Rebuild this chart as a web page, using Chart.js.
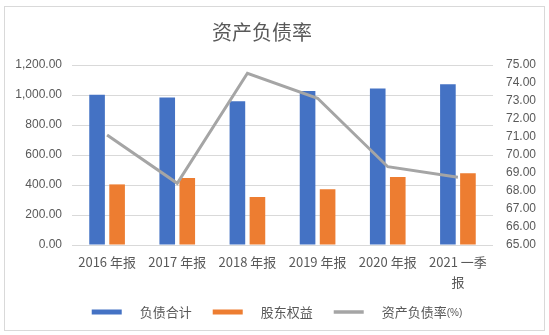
<!DOCTYPE html>
<html>
<head>
<meta charset="utf-8">
<script src="https://cdn.jsdelivr.net/npm/chart.js@4"></script>
<style>
  html, body { margin: 0; padding: 0; background: #ffffff; }
  #wrap { position: relative; width: 549px; height: 335px; }
</style>
</head>
<body>
<div id="wrap"><canvas id="c" width="549" height="335"></canvas></div>
<script>
// 资产负债率 — liabilities, equity (left axis) and debt ratio % (right axis)
const chartTitle = '资产负债率';
const categories = ['2016 年报', '2017 年报', '2018 年报', '2019 年报', '2020 年报', ['2021 一季', '报']];
const seriesNames = ['负债合计', '股东权益', '资产负债率(%)'];
const totalLiabilities = [1002, 984, 958, 1027, 1044, 1071];
const shareholderEquity = [404, 447, 320, 371, 453, 478];
const debtRatio = [71.11, 68.43, 74.54, 73.15, 69.35, 68.76];
const leftTicks = [0, 200, 400, 600, 800, 1000, 1200];
const rightTicks = [65, 66, 67, 68, 69, 70, 71, 72, 73, 74, 75];

const TEXT = '#595959';
const GRID = '#d9d9d9';
const LATIN = "'Liberation Sans', 'Noto Sans CJK SC', sans-serif";
const CJK = "'Noto Sans CJK SC', 'Liberation Sans', sans-serif";

const fmt2 = v => Number(v).toLocaleString('en-US', { minimumFractionDigits: 2, maximumFractionDigits: 2 });

// Outer frame and white background
const framePlugin = {
  id: 'frame',
  beforeDraw(chart) {
    const ctx = chart.ctx;
    ctx.save();
    ctx.fillStyle = '#ffffff';
    ctx.fillRect(0, 0, chart.width, chart.height);
    ctx.strokeStyle = GRID;
    ctx.lineWidth = 1;
    ctx.strokeRect(4.5, 6.5, 540, 324);
    ctx.restore();
  }
};

// Title text
const titlePlugin = {
  id: 'titleText',
  afterDraw(chart) {
    const ctx = chart.ctx;
    ctx.save();
    ctx.font = '20px ' + CJK;
    ctx.fillStyle = TEXT;
    ctx.textAlign = 'center';
    ctx.textBaseline = 'middle';
    ctx.fillText(chartTitle, 262, 32);
    ctx.restore();
  }
};

// Legend row under the axis; a trailing "(...)" unit is set in a smaller size
const legendPlugin = {
  id: 'legendRow',
  afterDraw(chart) {
    const ctx = chart.ctx;
    const sets = chart.data.datasets;
    const boxW = 30, gap = 18, itemGap = 21, y = 312;
    const mainFont = '13px ' + CJK, unitFont = '10px ' + LATIN;
    ctx.save();
    const parts = sets.map(ds => {
      const m = ds.label.match(/^(.*?)(\(.*\))?$/);
      return { main: m[1], unit: m[2] || '' };
    });
    const widths = parts.map(p => {
      ctx.font = mainFont;
      let w = ctx.measureText(p.main).width;
      ctx.font = unitFont;
      w += p.unit ? ctx.measureText(p.unit).width : 0;
      return boxW + gap + w;
    });
    const total = widths.reduce((a, b) => a + b, 0) + itemGap * (sets.length - 1);
    let x = 277 - total / 2;
    sets.forEach((ds, i) => {
      if (ds.type === 'line') {
        ctx.strokeStyle = ds.borderColor;
        ctx.lineWidth = 3.5;
        ctx.beginPath();
        ctx.moveTo(x, y);
        ctx.lineTo(x + boxW, y);
        ctx.stroke();
      } else {
        ctx.fillStyle = ds.backgroundColor;
        ctx.fillRect(x, y - 2.5, boxW, 5);
      }
      ctx.fillStyle = TEXT;
      ctx.textAlign = 'left';
      ctx.textBaseline = 'middle';
      ctx.font = mainFont;
      const tx = x + boxW + gap;
      ctx.fillText(parts[i].main, tx, y);
      if (parts[i].unit) {
        const mw = ctx.measureText(parts[i].main).width;
        ctx.font = unitFont;
        ctx.fillText(parts[i].unit, tx + mw, y + 1);
      }
      x += widths[i] + itemGap;
    });
    ctx.restore();
  }
};

new Chart(document.getElementById('c'), {
  data: {
    labels: categories,
    datasets: [
      {
        type: 'bar',
        label: seriesNames[0],
        data: totalLiabilities,
        backgroundColor: '#4472C4',
        yAxisID: 'y',
        order: 1,
        categoryPercentage: 0.571,
        barPercentage: 0.78
      },
      {
        type: 'bar',
        label: seriesNames[1],
        data: shareholderEquity,
        backgroundColor: '#ED7D31',
        yAxisID: 'y',
        order: 1,
        categoryPercentage: 0.571,
        barPercentage: 0.78
      },
      {
        type: 'line',
        label: seriesNames[2],
        data: debtRatio,
        borderColor: '#A5A5A5',
        backgroundColor: '#A5A5A5',
        borderWidth: 3,
        pointRadius: 0,
        tension: 0,
        yAxisID: 'y1',
        order: 0
      }
    ]
  },
  options: {
    responsive: false,
    animation: false,
    devicePixelRatio: 1,
    layout: { padding: { top: 65, bottom: 30, left: 0, right: 0 } },
    plugins: {
      legend: { display: false },
      title: { display: false },
      tooltip: { enabled: false }
    },
    scales: {
      x: {
        type: 'category',
        offset: true,
        grid: { display: false, drawTicks: false },
        border: { display: false },
        ticks: {
          color: TEXT,
          font: { size: 13, family: CJK, lineHeight: 1.55 },
          padding: 7,
          maxRotation: 0,
          autoSkip: false
        },
        afterFit(scale) { scale.height = 60; }
      },
      y: {
        position: 'left',
        min: 0,
        max: 1200,
        afterBuildTicks(scale) { scale.ticks = leftTicks.map(v => ({ value: v })); },
        grid: { color: GRID, lineWidth: 1, drawTicks: false },
        border: { display: false },
        ticks: {
          color: TEXT,
          font: { size: 12, family: LATIN },
          padding: 10,
          callback: v => fmt2(v)
        },
        afterFit(scale) { scale.width = 72; }
      },
      y1: {
        position: 'right',
        min: 65,
        max: 75,
        afterBuildTicks(scale) { scale.ticks = rightTicks.map(v => ({ value: v })); },
        grid: { display: false, drawTicks: false },
        border: { display: false },
        ticks: {
          color: TEXT,
          font: { size: 12, family: LATIN },
          padding: 13,
          callback: v => fmt2(v)
        },
        afterFit(scale) { scale.width = 56; }
      }
    }
  },
  plugins: [framePlugin, titlePlugin, legendPlugin]
});
</script>
</body>
</html>
